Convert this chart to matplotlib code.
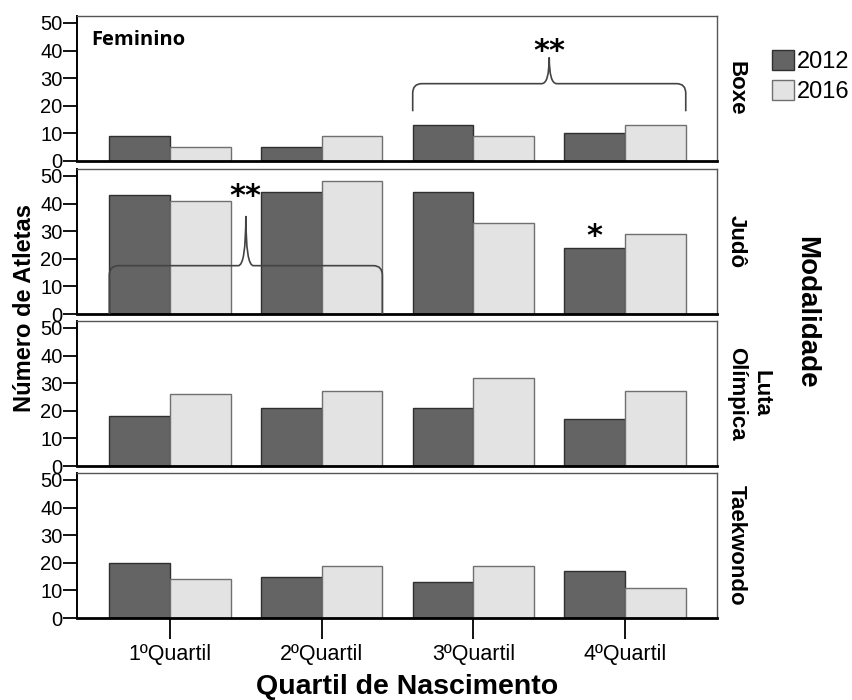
import numpy as np
import matplotlib
matplotlib.use('Agg')
import matplotlib.pyplot as plt
from matplotlib.path import Path
from matplotlib.patches import PathPatch, Patch

plt.rcParams['font.family'] = ['Liberation Sans', 'DejaVu Sans']

quartis = ['1ºQuartil', '2ºQuartil', '3ºQuartil', '4ºQuartil']
modalidades = ['Boxe', 'Judô', 'Luta\nOlímpica', 'Taekwondo']
anos = ['2012', '2016']

boxe_2012 = [9, 5, 13, 10]
boxe_2016 = [5, 9, 9, 13]
judo_2012 = [43, 44, 44, 24]
judo_2016 = [41, 48, 33, 29]
luta_2012 = [18, 21, 21, 17]
luta_2016 = [26, 27, 32, 27]
tkd_2012 = [20, 15, 13, 17]
tkd_2016 = [14, 19, 19, 11]

dados = [(boxe_2012, boxe_2016), (judo_2012, judo_2016),
         (luta_2012, luta_2016), (tkd_2012, tkd_2016)]

# chaves de significancia: painel, quartil inicial, quartil final, altura, base, pico, rotulo, y do rotulo
chave_painel = [0, 1]
chave_de = [2, 0]
chave_ate = [3, 1]
chave_altura = [28, 17.5]
chave_base = [18, 0]
chave_pico = [37.5, 35.5]
chave_rotulo = ['**', '**']
chave_rotulo_y = [36.5, 39.5]

# asterisco isolado (Judo, 4o quartil 2012)
ast_painel = 1
ast_quartil = 3
ast_y = 25

cor_2012 = '#646464'
cor_2016 = '#e3e3e3'
w = 0.4

W, H = 852, 700
fig = plt.figure(figsize=(W / 100, H / 100), dpi=100)

tops = [16, 169, 321, 473]
ph = 145
x = np.arange(len(quartis))
axes = []
for i, (a, b) in enumerate(dados):
    ax = fig.add_axes([77 / W, 1 - (tops[i] + ph) / H, 640 / W, ph / H])
    ax.bar(x - w / 2, a, w, color=cor_2012, edgecolor='#303030', linewidth=1.0, zorder=2)
    ax.bar(x + w / 2, b, w, color=cor_2016, edgecolor='#707070', linewidth=1.0, zorder=2)
    ax.set_xlim(-0.613, 3.606)
    ax.set_ylim(0, 52.5)
    ax.set_yticks([0, 10, 20, 30, 40, 50])
    ax.tick_params(axis='y', length=10, width=1.3, pad=0.5, labelsize=14.5, color='black')
    for s in ['top', 'right']:
        ax.spines[s].set_color('#555555')
        ax.spines[s].set_linewidth(1.0)
    ax.spines['left'].set_linewidth(1.4)
    ax.spines['bottom'].set_linewidth(2.0)
    ax.spines['bottom'].set_zorder(3)
    if i < 3:
        ax.set_xticks([])
    else:
        ax.set_xticks(x)
        ax.set_xticklabels(quartis)
        ax.tick_params(axis='x', length=15, width=1.3, pad=4, labelsize=15.5, color='black')
    fig.text(726 / W, 1 - (tops[i] + ph / 2) / H, modalidades[i], rotation=-90,
             ha='left', va='center', multialignment='center',
             fontsize=16, fontweight='bold')
    axes.append(ax)


def chave(ax, x0, x1, h, yb, yp):
    xm = (x0 + x1) / 2
    rx, ry = 0.06, 3.5
    cw = 0.05
    verts = [(x0, yb), (x0, h - ry), (x0, h), (x0 + rx, h),
             (xm - cw, h), (xm, h), (xm, yp),
             (xm, h), (xm + cw, h),
             (x1 - rx, h), (x1, h), (x1, h - ry), (x1, yb)]
    codes = [Path.MOVETO, Path.LINETO, Path.CURVE3, Path.CURVE3,
             Path.LINETO, Path.CURVE3, Path.CURVE3,
             Path.CURVE3, Path.CURVE3,
             Path.LINETO, Path.CURVE3, Path.CURVE3, Path.LINETO]
    ax.add_patch(PathPatch(Path(verts, codes), facecolor='none',
                           edgecolor='#444444', linewidth=1.2, zorder=4))
    return xm


for p, q0, q1, h, yb, yp, lab, ly in zip(chave_painel, chave_de, chave_ate, chave_altura,
                                         chave_base, chave_pico, chave_rotulo, chave_rotulo_y):
    ax = axes[p]
    xm = chave(ax, q0 - w, q1 + w, h, yb, yp)
    ax.text(xm, ly, lab, ha='center', va='baseline', fontsize=22,
            fontweight='bold', family='DejaVu Sans')

axes[ast_painel].text(ast_quartil - w / 2, ast_y, '*', ha='center', va='baseline',
                      fontsize=22, fontweight='bold', family='DejaVu Sans')

axes[0].text(0.023, 0.80, 'Feminino', transform=axes[0].transAxes, ha='left',
             va='baseline', fontsize=14.5, fontweight='bold', family='Open Sans')

fig.text(25 / W, 1 - 308 / H, 'Número de Atletas', rotation=90, ha='center',
         va='center', fontsize=17, fontweight='bold')
fig.text(407 / W, 1 - 694 / H, 'Quartil de Nascimento', ha='center', va='baseline',
         fontsize=20.5, fontweight='bold')
fig.text(806 / W, 1 - 312 / H, 'Modalidade', rotation=-90, ha='center', va='center',
         fontsize=20, fontweight='bold')

handles = [Patch(facecolor=cor_2012, edgecolor='#303030'),
           Patch(facecolor=cor_2016, edgecolor='#707070')]
fig.legend(handles, anos, loc='upper left', bbox_to_anchor=(772 / W, 1 - 50 / H),
           frameon=False, fontsize=17, handlelength=0.95, handleheight=0.9,
           handletextpad=0.1, labelspacing=0.3, borderpad=0, borderaxespad=0)

fig.savefig('out.png', dpi=100)
